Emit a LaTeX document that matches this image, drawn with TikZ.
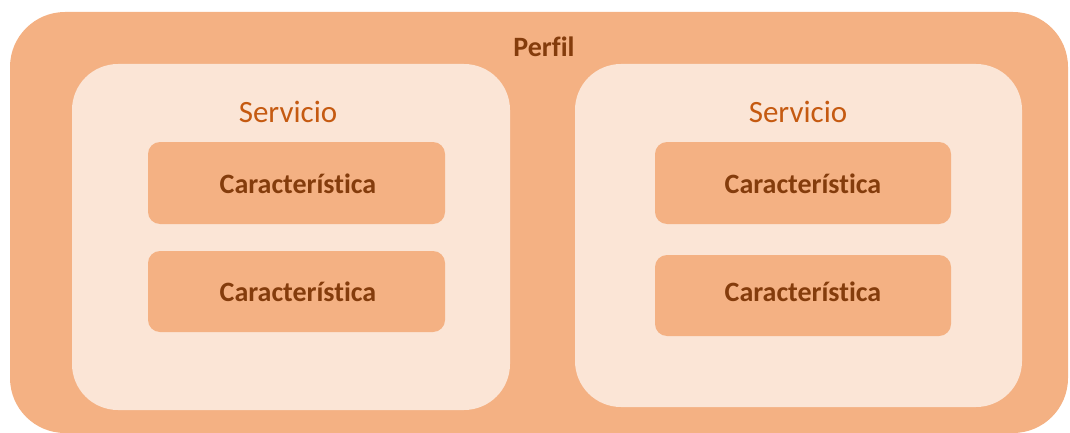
\documentclass[tikz,border=0pt]{standalone}
\usepackage{fontspec}
\setmainfont[Ligatures=NoCommon]{Carlito}
\definecolor{outerfill}{HTML}{F4B183}
\definecolor{innerfill}{HTML}{FBE5D6}
\definecolor{darktext}{HTML}{843C0C}
\definecolor{midtext}{HTML}{C55A11}
\begin{document}
\begin{tikzpicture}[x=1pt,y=-1pt,
  perfilbox/.style={fill=outerfill, rounded corners=55pt},
  servbox/.style={fill=innerfill, rounded corners=46pt},
  featbox/.style={fill=outerfill, rounded corners=12pt},
  perfiltxt/.style={font=\fontsize{28}{33}\selectfont\bfseries, text=darktext},
  servtxt/.style={font=\fontsize{31}{37}\selectfont, text=midtext},
  feattxt/.style={font=\fontsize{28}{33}\selectfont\bfseries, text=darktext}]
\useasboundingbox (0,0) rectangle (1070,433);
% outer profile frame
\path[perfilbox] (10,12) rectangle (1068,433);
\node[perfiltxt] (perfil) at (544,47) {Perfil};
% two services
\path[servbox] (72,64) rectangle (510,410);
\path[servbox] (575,64) rectangle (1022,407);
\node[servtxt] (servA) at (288,112) {Servicio};
\node[servtxt] (servB) at (798,112) {Servicio};
% features inside each service
\path[featbox] (148,142) rectangle (445,224);
\path[featbox] (148,251) rectangle (445,332);
\path[featbox] (655,142) rectangle (951,224);
\path[featbox] (655,255) rectangle (951,336);
\node[feattxt] (featA1) at (298,184) {Característica};
\node[feattxt] (featA2) at (298,292) {Característica};
\node[feattxt] (featB1) at (803,184) {Característica};
\node[feattxt] (featB2) at (803,292) {Característica};
\end{tikzpicture}
\end{document}
